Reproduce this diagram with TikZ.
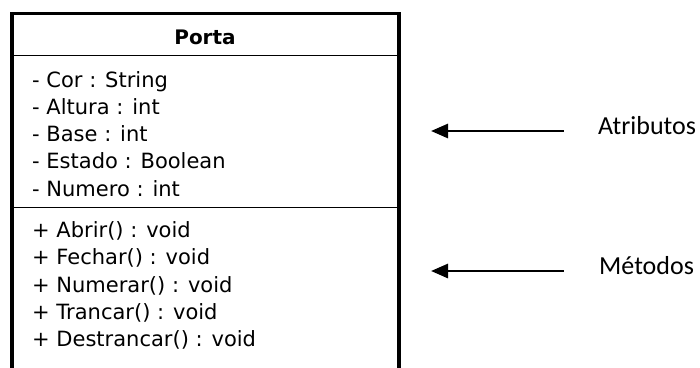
\documentclass[tikz,border=0pt]{standalone}
\usepackage{fontspec}
\setmainfont{DejaVu Sans}
\newfontfamily\notafont{Carlito}
\usetikzlibrary{arrows.meta}

\begin{document}
\begin{tikzpicture}[x=1pt, y=-1pt,
        membro/.style={anchor=base west, inner sep=0pt, font=\fontsize{21}{24}\selectfont},
        titulo/.style={anchor=base, inner sep=0pt, font=\fontsize{20}{24}\selectfont\bfseries},
        nota/.style={anchor=base west, inner sep=0pt, font=\notafont\fontsize{26}{30}\selectfont},
        seta/.style={{Triangle[length=17pt, width=14pt]}-, line width=2.8pt}
      ]
        \useasboundingbox (0,0) rectangle (700,367);
        % caixa da classe, aberta em baixo
        \begin{scope}
          \clip (0,0) rectangle (700,367);
          \draw[line width=3.2pt] (12,380) -- (12,13.5) -- (399,13.5) -- (399,380);
          \draw[line width=1.6pt] (12,55.3) -- (399,55.3);
          \draw[line width=1.6pt] (12,207.5) -- (399,207.5);
        \end{scope}
        \node[titulo] (porta) at (205,44.5) {Porta};
        \foreach \txt [count=\i] in {- Cor : String, - Altura : int, - Base : int,
            - Estado : Boolean, - Numero : int}
          \node[membro] (attr\i) at (32,{87+27.3*(\i-1)}) {\txt};
        \foreach \txt [count=\i] in {+ Abrir() : void, + Fechar() : void, + Numerar() : void,
            + Trancar() : void, + Destrancar() : void}
          \node[membro] (metodo\i) at (32,{237.5+27.3*(\i-1)}) {\txt};
        \node[nota] (atributos) at (598,134.5) {Atributos};
        \node[nota] (metodos) at (599,274.5) {Métodos};
        \coordinate (atrponta) at (431,131);
        \coordinate (atrcauda) at (564,131);
        \coordinate (metponta) at (431,271);
        \coordinate (metcauda) at (564,271);
        \draw[seta] (atrponta) -- (atrcauda);
        \draw[seta] (metponta) -- (metcauda);
      \end{tikzpicture}
\end{document}
